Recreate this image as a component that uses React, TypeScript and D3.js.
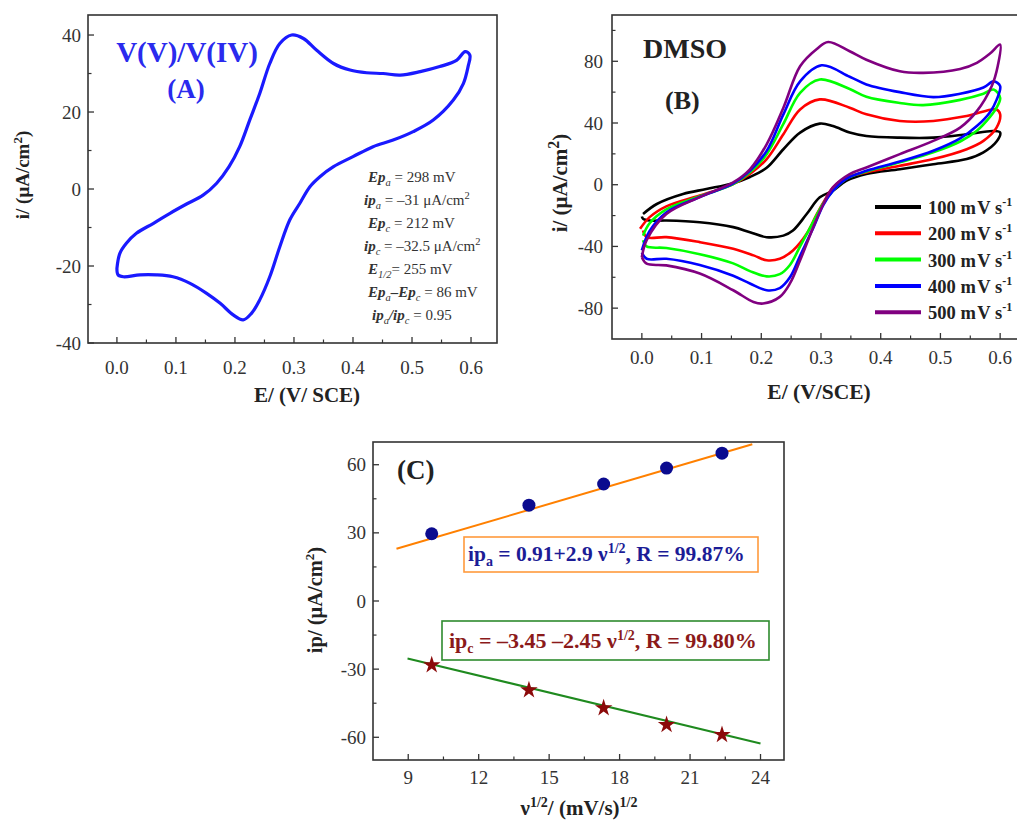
import React from 'react';
import * as d3 from 'd3';

// ---------- Panel A data: V(V)/V(IV) cyclic voltammogram (E in V, i in µA/cm²)
const cvA: [number, number][] = [
  [0.0, -20.6], [0.005, -16.7], [0.016, -14.1], [0.033, -11.5], [0.062, -8.9], [0.09, -6.3],
  [0.118, -3.9], [0.146, -1.6], [0.169, 1.5], [0.19, 5.8], [0.208, 11], [0.225, 17.9],
  [0.242, 24.8], [0.259, 32.6], [0.276, 37.8], [0.296, 40], [0.316, 39.1], [0.338, 36.1],
  [0.367, 32.6], [0.395, 30.9], [0.423, 30.2], [0.451, 30], [0.48, 29.6], [0.514, 30.5],
  [0.547, 31.8], [0.576, 33.5], [0.59, 35.7], [0.598, 34.8],
  [0.595, 31.8], [0.587, 27.4], [0.57, 23.1], [0.536, 17.9], [0.502, 14.9], [0.468, 12.7],
  [0.434, 11], [0.4, 8.4], [0.367, 5.8], [0.344, 3.2], [0.327, 0.6], [0.31, -3.7],
  [0.293, -8], [0.276, -15], [0.259, -22.8], [0.242, -28.8], [0.228, -32.3], [0.214, -34],
  [0.197, -32.7], [0.175, -29.7], [0.152, -27.1], [0.124, -24.5], [0.095, -22.8],
  [0.067, -22.3], [0.039, -22.3], [0.011, -22.8], [0.002, -22.3], [0.0, -20.6],
];

// ---------- Panel B data: scan-rate series
const cv100: [number, number][] = [
  [0.002, -19], [0.025, -12.5], [0.069, -6], [0.108, -2.8], [0.153, 1], [0.181, 5], [0.209, 11],
  [0.237, 23], [0.265, 33.8], [0.298, 39.6], [0.32, 38], [0.348, 33.8], [0.376, 31.6],
  [0.432, 30.5], [0.488, 30.5], [0.544, 32.7], [0.589, 34.8], [0.6, 33.8],
  [0.594, 28], [0.572, 21], [0.544, 16.6], [0.488, 13.3], [0.432, 10], [0.376, 6.9],
  [0.343, 2.6], [0.32, -3.9], [0.298, -8.2], [0.276, -19], [0.253, -29.7], [0.237, -33],
  [0.209, -34], [0.181, -30.8], [0.153, -27.5], [0.097, -24.3], [0.041, -23.2],
  [0.013, -23.2], [0.002, -22], [0.0, -20.6],
];
const cv200: [number, number][] = [
  [-0.003, -28.6], [0.013, -21], [0.041, -14], [0.097, -7], [0.153, 0.4], [0.181, 7],
  [0.209, 16.6], [0.237, 32.7], [0.265, 48.8], [0.298, 55.3], [0.348, 49.9], [0.376, 45.6],
  [0.432, 41.3], [0.488, 41.3], [0.544, 44.5], [0.594, 48.8],
  [0.6, 45.6], [0.594, 37], [0.572, 28.4], [0.544, 23], [0.488, 16.6], [0.432, 12.3],
  [0.376, 8], [0.343, 4.7], [0.32, -1.7], [0.309, -8.2], [0.293, -19], [0.276, -31.8],
  [0.253, -42.6], [0.231, -48], [0.209, -49], [0.187, -45.8], [0.153, -41.5],
  [0.097, -37.2], [0.041, -34], [0.008, -34], [0.002, -29.7],
];
const cv300: [number, number][] = [
  [0.002, -33], [0.013, -25], [0.041, -16], [0.097, -7.5], [0.153, 0.4], [0.181, 8],
  [0.209, 19.8], [0.237, 39.4], [0.265, 59.6], [0.298, 68.2], [0.348, 62], [0.376, 57],
  [0.432, 53], [0.471, 51.6], [0.533, 55], [0.572, 59], [0.589, 61.7],
  [0.6, 56.3], [0.594, 50], [0.583, 44], [0.561, 35], [0.533, 28], [0.488, 21], [0.432, 14.5],
  [0.376, 8.5], [0.343, 4], [0.32, -4], [0.304, -12], [0.287, -24], [0.265, -40],
  [0.248, -52], [0.231, -58], [0.209, -59.4], [0.181, -56], [0.153, -51], [0.097, -45],
  [0.041, -41], [0.008, -40], [0.002, -36],
];
const cv400: [number, number][] = [
  [0.0, -42.6], [0.013, -30], [0.041, -18], [0.097, -8], [0.153, 0.8], [0.181, 9],
  [0.209, 21.9], [0.237, 45.6], [0.265, 67], [0.301, 77.4], [0.348, 70], [0.376, 65],
  [0.432, 60], [0.488, 56.8], [0.533, 59], [0.572, 63], [0.589, 67],
  [0.6, 63.9], [0.594, 55], [0.583, 47], [0.561, 38], [0.533, 30], [0.488, 22], [0.432, 15],
  [0.376, 9], [0.343, 4], [0.32, -4], [0.304, -13], [0.287, -28], [0.265, -46],
  [0.248, -60], [0.231, -67], [0.209, -68.4], [0.181, -64], [0.153, -59], [0.097, -52],
  [0.041, -48], [0.008, -48], [0.0, -44],
];
const cv500: [number, number][] = [
  [0.0, -47], [0.008, -36], [0.041, -19], [0.097, -8], [0.153, 1.5], [0.181, 10],
  [0.209, 26.2], [0.237, 49.9], [0.265, 76.8], [0.293, 88], [0.312, 92.5], [0.348, 86.5],
  [0.376, 81], [0.432, 73.5], [0.471, 72.5], [0.533, 75], [0.561, 79], [0.583, 85],
  [0.6, 90.8],
  [0.596, 77], [0.586, 64], [0.561, 47.7], [0.533, 37], [0.488, 28.4], [0.432, 19.8],
  [0.376, 11.2], [0.348, 6.9], [0.32, -1.7], [0.304, -12.5], [0.287, -27.5], [0.265, -49],
  [0.248, -64], [0.231, -72.7], [0.203, -77], [0.187, -76], [0.153, -68.4], [0.097, -57.6],
  [0.041, -52.3], [0.008, -51.2], [0.0, -47],
];
const scanSeries = [cv100, cv200, cv300, cv400, cv500];
const scanLabels = ['100', '200', '300', '400', '500'];
const scanColors = ['#000000', '#ff0000', '#00ff00', '#0000ff', '#800080'];

// ---------- Panel C data: peak current vs sqrt(scan rate)
const sqrtRate = [10, 14.14, 17.32, 20, 22.36];
const ipAnodic = [29.6, 42.2, 51.5, 58.5, 65.1];
const ipCathodic = [-28.2, -39.2, -47.1, -54.5, -58.9];
const fitAnodic: [number, number][] = [[8.5, 23], [23.65, 69]];
const fitCathodic: [number, number][] = [[8.97, -25.3], [24, -62.7]];

// tick values
const ticksEMajor = [0, 0.1, 0.2, 0.3, 0.4, 0.5, 0.6];
const ticksEMinor = [0.05, 0.15, 0.25, 0.35, 0.45, 0.55];
const ticksAYMajor = [-40, -20, 0, 20, 40];
const ticksAYMinor = [-30, -10, 10, 30];
const ticksBYMajor = [-80, -40, 0, 40, 80];
const ticksBYMinor = [-60, -20, 20, 60, 100];
const ticksCXMajor = [9, 12, 15, 18, 21, 24];
const ticksCXMinor = [10.5, 13.5, 16.5, 19.5, 22.5];
const ticksCYMajor = [-60, -30, 0, 30, 60];
const ticksCYMinor = [-45, -15, 15, 45];

const SERIF = '"Liberation Serif", "DejaVu Serif", Times, serif';
const AX = '#333';

type Scale = d3.ScaleLinear<number, number>;

function Frame({ x, y, xMajor, xMinor, yMajor, yMinor, xFmt, yFmt, xLabY, yLabX }: {
  x: Scale; y: Scale; xMajor: number[]; xMinor: number[]; yMajor: number[]; yMinor: number[];
  xFmt: (v: number) => string; yFmt: (v: number) => string; xLabY: number; yLabX: number;
}) {
  const [x0, x1] = x.range();
  const [y0, y1] = y.range(); // y0 bottom, y1 top
  return (
    <g>
      <rect x={x0} y={y1} width={x1 - x0} height={y0 - y1} fill="none" stroke={AX} strokeWidth={1.6} />
      {xMajor.map((v) => (
        <g key={'xm' + v}>
          <line x1={x(v)} x2={x(v)} y1={y0} y2={y0 - 6} stroke={AX} strokeWidth={1.3} />
          <text x={x(v)} y={xLabY} textAnchor="middle" fontSize={19} fill={AX} fontFamily={SERIF}>{xFmt(v)}</text>
        </g>
      ))}
      {xMinor.map((v) => (
        <line key={'xn' + v} x1={x(v)} x2={x(v)} y1={y0} y2={y0 - 3.5} stroke={AX} strokeWidth={1.2} />
      ))}
      {yMajor.map((v) => (
        <g key={'ym' + v}>
          <line x1={x0} x2={x0 + 6} y1={y(v)} y2={y(v)} stroke={AX} strokeWidth={1.3} />
          <text x={yLabX} y={y(v) + 6.5} textAnchor="end" fontSize={19} fill={AX} fontFamily={SERIF}>{yFmt(v)}</text>
        </g>
      ))}
      {yMinor.map((v) => (
        <line key={'yn' + v} x1={x0} x2={x0 + 3.5} y1={y(v)} y2={y(v)} stroke={AX} strokeWidth={1.2} />
      ))}
    </g>
  );
}

export default function App() {
  // Panel A scales
  const xA = d3.scaleLinear().domain([-0.049, 0.644]).range([88, 497]);
  const yA = d3.scaleLinear().domain([-40, 45.2]).range([343, 15]);
  // Panel B scales
  const xB = d3.scaleLinear().domain([-0.05, 0.65]).range([612, 1030]);
  const yB = d3.scaleLinear().domain([-100, 110]).range([339, 15]);
  // Panel C scales
  const xC = d3.scaleLinear().domain([7.5, 25]).range([373, 784]);
  const yC = d3.scaleLinear().domain([-70, 70]).range([760, 442]);

  const lineA = d3.line<[number, number]>().x((d) => xA(d[0])).y((d) => yA(d[1])).curve(d3.curveCatmullRom.alpha(0.5));
  const lineB = d3.line<[number, number]>().x((d) => xB(d[0])).y((d) => yB(d[1])).curve(d3.curveCatmullRom.alpha(0.5));
  const lineC = d3.line<[number, number]>().x((d) => xC(d[0])).y((d) => yC(d[1]));
  const star = d3.symbol().type(d3.symbolStar).size(95)();

  const fmtE = (v: number) => v.toFixed(1);
  const fmtI = (v: number) => String(v);

  const annX = 368;
  const annY0 = 182;
  const annDy = 23;
  const annStyle = { fontSize: 15, fill: '#333', fontFamily: SERIF } as const;
  const sub = 10.5;

  return (
    <svg width={1017} height={820} style={{ position: 'absolute', left: 0, top: 0, background: '#fff' }}>
      {/* ================= Panel A ================= */}
      <Frame x={xA} y={yA} xMajor={ticksEMajor} xMinor={ticksEMinor} yMajor={ticksAYMajor} yMinor={ticksAYMinor}
        xFmt={fmtE} yFmt={fmtI} xLabY={374} yLabX={81} />
      <path d={lineA(cvA) || ''} fill="none" stroke="#1a1aff" strokeWidth={3.2} strokeLinejoin="round" />
      <text x={187} y={62} textAnchor="middle" fontSize={29} fontWeight="bold" fill="#2a2aee" fontFamily={SERIF}>V(V)/V(IV)</text>
      <text x={186} y={98} textAnchor="middle" fontSize={27} fontWeight="bold" fill="#2a2aee" fontFamily={SERIF}>(A)</text>
      <g {...annStyle}>
        <text x={annX} y={annY0}>
          <tspan fontStyle="italic" fontWeight="bold">Ep</tspan><tspan fontStyle="italic" fontSize={sub} dy={4}>a</tspan>
          <tspan dy={-4}> = 298 mV</tspan>
        </text>
        <text x={annX - 4} y={annY0 + annDy}>
          <tspan fontStyle="italic" fontWeight="bold">ip</tspan><tspan fontStyle="italic" fontSize={sub} dy={4}>a</tspan>
          <tspan dy={-4}> = –31 μA/cm</tspan><tspan fontSize={sub} dy={-6}>2</tspan>
        </text>
        <text x={annX} y={annY0 + annDy * 2}>
          <tspan fontStyle="italic" fontWeight="bold">Ep</tspan><tspan fontStyle="italic" fontSize={sub} dy={4}>c</tspan>
          <tspan dy={-4}> =  212 mV</tspan>
        </text>
        <text x={annX - 4} y={annY0 + annDy * 3}>
          <tspan fontStyle="italic" fontWeight="bold">ip</tspan><tspan fontStyle="italic" fontSize={sub} dy={4}>c</tspan>
          <tspan dy={-4}> = –32.5 μA/cm</tspan><tspan fontSize={sub} dy={-6}>2</tspan>
        </text>
        <text x={annX} y={annY0 + annDy * 4}>
          <tspan fontStyle="italic" fontWeight="bold">E</tspan><tspan fontStyle="italic" fontSize={sub} dy={4}>1/2</tspan>
          <tspan dy={-4}>=  255 mV</tspan>
        </text>
        <text x={annX} y={annY0 + annDy * 5}>
          <tspan fontStyle="italic" fontWeight="bold">Ep</tspan><tspan fontStyle="italic" fontSize={sub} dy={4}>a</tspan>
          <tspan dy={-4} fontStyle="italic" fontWeight="bold">–Ep</tspan><tspan fontStyle="italic" fontSize={sub} dy={4}>c</tspan>
          <tspan dy={-4}> = 86 mV</tspan>
        </text>
        <text x={annX + 4} y={annY0 + annDy * 6}>
          <tspan fontStyle="italic" fontWeight="bold">ip</tspan><tspan fontStyle="italic" fontSize={sub} dy={4}>a</tspan>
          <tspan dy={-4} fontStyle="italic" fontWeight="bold">/ip</tspan><tspan fontStyle="italic" fontSize={sub} dy={4}>c</tspan>
          <tspan dy={-4}> = 0.95</tspan>
        </text>
      </g>
      <text transform="translate(29,175) rotate(-90)" textAnchor="middle" fontSize={19} fontWeight="bold" fill="#222" fontFamily={SERIF}>
        i/ (μA/cm<tspan fontSize={13} dy={-7}>2</tspan><tspan dy={7}>)</tspan>
      </text>
      <text x={307} y={402} textAnchor="middle" fontSize={21} fontWeight="bold" fill="#222" fontFamily={SERIF}>E/ (V/ SCE)</text>

      {/* ================= Panel B ================= */}
      <Frame x={xB} y={yB} xMajor={ticksEMajor} xMinor={ticksEMinor} yMajor={ticksBYMajor} yMinor={ticksBYMinor}
        xFmt={fmtE} yFmt={fmtI} xLabY={364} yLabX={603} />
      {scanSeries.map((s, k) => (
        <path key={'cv' + k} d={lineB(s) || ''} fill="none" stroke={scanColors[k]} strokeWidth={2.6} strokeLinejoin="round" />
      ))}
      {scanLabels.map((lab, k) => (
        <g key={'lg' + k}>
          <line x1={875} x2={921} y1={207 + k * 26.3} y2={207 + k * 26.3} stroke={scanColors[k]} strokeWidth={4} />
          <text x={928} y={214 + k * 26.3} fontSize={18.5} fontWeight="bold" fill="#222" fontFamily={SERIF}>
            {lab} m<tspan dx={1.5}>V s</tspan><tspan fontSize={12} dy={-8}>-1</tspan>
          </text>
        </g>
      ))}
      <text x={643} y={58} fontSize={28} fontWeight="bold" fill="#222" fontFamily={SERIF}>DMSO</text>
      <text x={665} y={109} fontSize={26} fontWeight="bold" fill="#222" fontFamily={SERIF}>(B)</text>
      <text transform="translate(567,183) rotate(-90)" textAnchor="middle" fontSize={21} fontWeight="bold" fill="#222" fontFamily={SERIF}>
        i/ (μA/cm<tspan fontSize={16} dy={-8}>2</tspan><tspan dy={8}>)</tspan>
      </text>
      <text x={819} y={399} textAnchor="middle" fontSize={21.5} fontWeight="bold" fill="#222" fontFamily={SERIF}>E/ (V/SCE)</text>

      {/* ================= Panel C ================= */}
      <Frame x={xC} y={yC} xMajor={ticksCXMajor} xMinor={ticksCXMinor} yMajor={ticksCYMajor} yMinor={ticksCYMinor}
        xFmt={fmtI} yFmt={fmtI} xLabY={784} yLabX={366} />
      <path d={lineC(fitAnodic) || ''} stroke="#ff8000" strokeWidth={2} fill="none" />
      <path d={lineC(fitCathodic) || ''} stroke="#1f8a1f" strokeWidth={2} fill="none" />
      {sqrtRate.map((v, k) => (
        <circle key={'pa' + k} cx={xC(v)} cy={yC(ipAnodic[k])} r={6.5} fill="#0b0b8f" />
      ))}
      {sqrtRate.map((v, k) => (
        <path key={'pc' + k} d={star || ''} transform={`translate(${xC(v)},${yC(ipCathodic[k])})`} fill="#8b0a0a" />
      ))}
      <text x={397} y={479} fontSize={27} fontWeight="bold" fill="#222" fontFamily={SERIF}>(C)</text>
      <rect x={464} y={537} width={294} height={35} fill="none" stroke="#ff9a3c" strokeWidth={1.6} />
      <text x={468} y={561} fontSize={21.5} fontWeight="bold" fill="#1c1c96" fontFamily={SERIF}>
        ip<tspan fontSize={14} dy={5}>a</tspan><tspan dy={-5}> = 0.91+2.9 ν</tspan><tspan fontSize={14} dy={-8}>1/2</tspan><tspan dy={8}>, R = 99.87%</tspan>
      </text>
      <rect x={442} y={621} width={327} height={39} fill="none" stroke="#2e8b2e" strokeWidth={1.6} />
      <text x={449} y={648} fontSize={22} fontWeight="bold" fill="#8b1a1a" fontFamily={SERIF}>
        ip<tspan fontSize={14} dy={5}>c</tspan><tspan dy={-5}> = –3.45 –2.45 ν</tspan><tspan fontSize={14} dy={-8}>1/2</tspan><tspan dy={8}>, R = 99.80%</tspan>
      </text>
      <text transform="translate(322,600) rotate(-90)" textAnchor="middle" fontSize={20.5} fontWeight="bold" fill="#222" fontFamily={SERIF}>
        ip/ (μA/cm<tspan fontSize={13} dy={-8}>2</tspan><tspan dy={8}>)</tspan>
      </text>
      <text x={579} y={815} textAnchor="middle" fontSize={21} fontWeight="bold" fill="#222" fontFamily={SERIF}>
        ν<tspan fontSize={14} dy={-8}>1/2</tspan><tspan dy={8}>/ (mV/s)</tspan><tspan fontSize={14} dy={-8}>1/2</tspan>
      </text>
    </svg>
  );
}
